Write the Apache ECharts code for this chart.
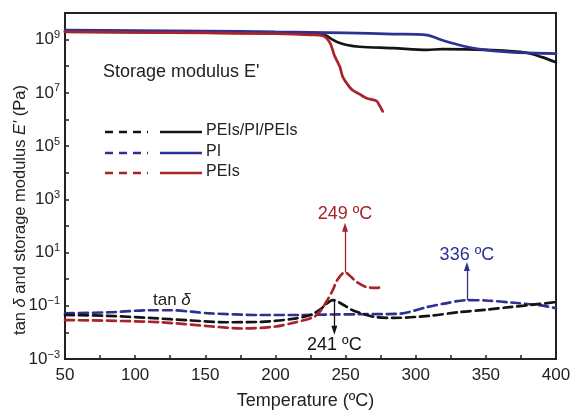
<!DOCTYPE html>
<html><head><meta charset="utf-8">
<script src="https://cdn.jsdelivr.net/npm/echarts@6/dist/echarts.min.js"></script>
<style>html,body{margin:0;padding:0;background:#fff}#c{width:573px;height:410px}</style>
</head><body><div id="c"></div>
<script>
// ---- data (storage modulus, Pa) ----
const tE_PEIs = [50,100,150,200,225,234,239,242,246,248,253,255,260,265,272,274,276.5];
const E_PEIs = [1.95e9,1.86e9,1.78e9,1.66e9,1.51e9,1.38e9,7.4e8,2.6e8,9.3e7,4.0e7,1.6e7,1.26e7,8.9e6,6.3e6,5.0e6,3.5e6,2.0e6];
const tE_PI = [50,100,150,200,250,284,308,319,331,344,367,400];
const E_PI = [2.3e9,2.2e9,2.1e9,1.95e9,1.8e9,1.62e9,1.48e9,9.5e8,6.3e8,4.5e8,3.4e8,3.0e8];
const tE_Tri = [50,100,150,200,230,236,240,244,251,260,284,308,319,355,379,390,400];
const E_Tri = [2.0e9,1.9e9,1.82e9,1.74e9,1.58e9,1.41e9,1.05e9,8.1e8,6.3e8,5.4e8,4.8e8,4.1e8,4.4e8,4.0e8,3.2e8,2.2e8,1.4e8];
// ---- data (tan delta) ----
const tD_PEIs = [50,80,118,153,177,200,212,227,232,237,241,244,249.6,254,258,265,272,276.6];
const D_PEIs = [0.029,0.0275,0.024,0.017,0.014,0.0166,0.0224,0.037,0.063,0.162,0.40,0.91,1.82,1.2,0.78,0.50,0.47,0.50];
const tD_PI = [50,82,110,125,140,153,189,217,240,260,288,308,320,336,350,370,388,400];
const D_PI = [0.052,0.057,0.068,0.068,0.06,0.052,0.045,0.045,0.047,0.048,0.050,0.089,0.12,0.162,0.158,0.13,0.105,0.081];
const tD_Tri = [50,80,110,140,165,190,212,225,232,237,241,248,255,265,272,284,310,331,350,367,385,400];
const D_Tri = [0.045,0.042,0.035,0.028,0.024,0.025,0.032,0.045,0.074,0.126,0.162,0.112,0.068,0.045,0.037,0.035,0.042,0.058,0.071,0.089,0.112,0.138];
// ---- annotations ----
const peakPEIs = [249.6, 1.82], peakPEIsEnd = [249.6, 90], labelPEIs = '249 ºC';
const peakPI = [336.5, 0.162], peakPIEnd = [336.5, 3.0], labelPI = '336 ºC';
const peakTri = [242, 0.162], peakTriEnd = [242, 0.012], labelTri = '241 ºC';
const xTicks = {min: 50, max: 400, step: 25};
const yTicks = {min: 1e-3, max: 1e10};

const BLACK = '#141414', BLUE = '#2e3192', RED = '#a8232a';
const FONT = '"Liberation Sans", Arial, Helvetica, sans-serif';
const zip = (a, b) => a.map((v, i) => [v, b[i]]);
function sup(n){ return String(n).replace('-', '−'); }

function lineSeries(name, t, v, color, dashed, extra) {
  return Object.assign({
    name, type: 'line', data: zip(t, v), showSymbol: false, symbol: 'none',
    smooth: 0.3, z: dashed ? 3 : 4,
    lineStyle: {color, width: 2.7, type: dashed ? [9, 5] : 'solid', cap: 'round'},
    silent: true, animation: false
  }, extra || {});
}
function arrow(p0, p1, color, text, dist) {
  return {
    silent: true, animation: false, symbol: ['none', 'triangle'], symbolSize: [6, 9],
    lineStyle: {color, width: 1.3, type: 'solid'},
    label: {show: true, position: 'end', formatter: text, color, fontFamily: FONT, fontSize: 18, distance: dist},
    data: [[{coord: p0}, {coord: p1}]]
  };
}

const chart = echarts.init(document.getElementById('c'), null, {renderer: 'canvas'});
chart.setOption({
  animation: false,
  backgroundColor: '#fff',
  grid: {left: 65, right: 17, top: 13, bottom: 51, containLabel: false, outerBoundsMode: 'none',
    show: true, borderColor: '#222', borderWidth: 2},
  xAxis: {
    type: 'value', min: xTicks.min, max: xTicks.max, interval: xTicks.step,
    name: 'Temperature (ºC)', nameLocation: 'middle', nameGap: 33, nameMoveOverlap: false,
    nameTextStyle: {fontFamily: FONT, fontSize: 18, color: '#222', padding: [0, 10, 0, 0]},
    axisLine: {lineStyle: {color: '#222', width: 2}},
    axisTick: {inside: true, length: 4, lineStyle: {color: '#222', width: 1.5}},
    axisLabel: {interval: 1, fontFamily: FONT, fontSize: 17, color: '#222', margin: 8,
      formatter: v => (v % 50 === 0 ? String(v) : '')},
    splitLine: {show: false}
  },
  yAxis: {
    type: 'log', logBase: 10, min: yTicks.min, max: yTicks.max, splitNumber: 13, interval: 1,
    name: 'tan {i|δ} and storage modulus {i|E\'} (Pa)', nameLocation: 'middle', nameGap: 36, nameMoveOverlap: false,
    nameTextStyle: {fontFamily: FONT, fontSize: 16.5, color: '#222', padding: [0, 48, 0, 0],
      rich: {i: {fontStyle: 'italic', fontFamily: FONT, fontSize: 16.5, color: '#222'}}},
    axisLine: {lineStyle: {color: '#222', width: 2}},
    axisTick: {inside: true, length: 4, lineStyle: {color: '#222', width: 1.5}},
    axisLabel: {fontFamily: FONT, fontSize: 17, color: '#222', margin: 5,
      formatter: v => { const e = Math.round(Math.log10(v)); return (Math.abs(e) % 2 === 1) ? '10{s|' + sup(e) + '}' : ''; },
      rich: {s: {fontSize: 11, verticalAlign: 'top', padding: [0, 0, 9, 0], fontFamily: FONT, color: '#222'}}},
    splitLine: {show: false}, minorTick: {show: false}
  },
  series: [
    lineSeries('PEIs/PI/PEIs E', tE_Tri, E_Tri, BLACK, false),
    lineSeries('PI E', tE_PI, E_PI, BLUE, false),
    lineSeries('PEIs E', tE_PEIs, E_PEIs, RED, false),
    lineSeries('PI tan', tD_PI, D_PI, BLUE, true, {markLine: arrow(peakPI, peakPIEnd, BLUE, labelPI, 2)}),
    lineSeries('PEIs/PI/PEIs tan', tD_Tri, D_Tri, BLACK, true, {markLine: arrow(peakTri, peakTriEnd, BLACK, labelTri, 6)}),
    lineSeries('PEIs tan', tD_PEIs, D_PEIs, RED, true, {markLine: arrow(peakPEIs, peakPEIsEnd, RED, labelPEIs, 4)})
  ],
  graphic: [
    {type: 'text', left: 103, top: 63, style: {text: "Storage modulus E'", font: '18px ' + FONT, fill: '#222'}},
    {type: 'text', left: 153, top: 292, style: {text: 'tan {i|δ}', font: '17px ' + FONT, fill: '#222',
      rich: {i: {fontStyle: 'italic', fontSize: 17, fontFamily: FONT, fill: '#222'}}}},
    // legend
    {type: 'line', shape: {x1: 105, y1: 132, x2: 148, y2: 132}, style: {stroke: BLACK, lineWidth: 2.7, lineDash: [8, 6]}},
    {type: 'line', shape: {x1: 160, y1: 132, x2: 202, y2: 132}, style: {stroke: BLACK, lineWidth: 2.7}},
    {type: 'text', left: 206, top: 123, style: {text: 'PEIs/PI/PEIs', font: '16px ' + FONT, fill: '#222'}},
    {type: 'line', shape: {x1: 105, y1: 153, x2: 148, y2: 153}, style: {stroke: BLUE, lineWidth: 2.7, lineDash: [8, 6]}},
    {type: 'line', shape: {x1: 160, y1: 153, x2: 202, y2: 153}, style: {stroke: BLUE, lineWidth: 2.7}},
    {type: 'text', left: 206, top: 144, style: {text: 'PI', font: '16px ' + FONT, fill: '#222'}},
    {type: 'line', shape: {x1: 105, y1: 173, x2: 148, y2: 173}, style: {stroke: RED, lineWidth: 2.7, lineDash: [8, 6]}},
    {type: 'line', shape: {x1: 160, y1: 173, x2: 202, y2: 173}, style: {stroke: RED, lineWidth: 2.7}},
    {type: 'text', left: 206, top: 164, style: {text: 'PEIs', font: '16px ' + FONT, fill: '#222'}}
  ]
});
</script></body></html>
